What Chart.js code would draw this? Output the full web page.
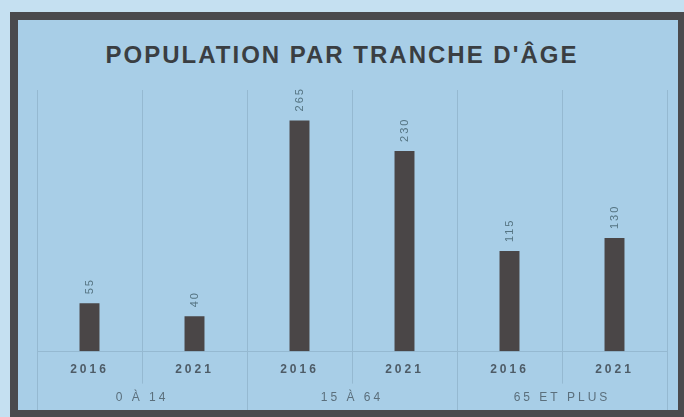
<!DOCTYPE html>
<html>
<head>
<meta charset="utf-8">
<script src="https://cdn.jsdelivr.net/npm/chart.js@4"></script>
<style>
body{margin:0;background:#c5e0f1;width:684px;height:417px;overflow:hidden;position:relative;font-family:"Liberation Sans",Arial,sans-serif;}
#frame{position:absolute;left:10px;top:12px;width:660px;height:390px;border:8px solid #4a4a4d;background:#a8cee7;}
#title{position:absolute;left:0;top:43px;width:684px;text-align:center;font-weight:bold;font-size:24px;line-height:1;letter-spacing:2px;color:#3a3e42;}
#wrap{position:absolute;left:0;top:0;width:684px;height:417px;}
</style>
</head>
<body>
<div id="frame"></div>
<div id="title">POPULATION PAR TRANCHE D'ÂGE</div>
<div id="wrap"><canvas id="c"></canvas></div>
<script>
const years=["2016","2021","2016","2021","2016","2021"];
const groups=["0 À 14","15 À 64","65 ET PLUS"];
const values=[55,40,265,230,115,130];
const yMax=300;

const gridColor="#95b9d1";

/* letter spacing for the axis text */
const spacing={id:"spacing",beforeDraw(c){c.ctx.letterSpacing="3px";}};

/* vertical separators, full height at group edges */
const separators={id:"separators",afterDraw(c){
const x=c.scales.x,ctx=c.ctx,a=c.chartArea;
ctx.save();
ctx.strokeStyle=gridColor;ctx.lineWidth=1;
for(let i=0;i<=years.length;i++){
let px=Math.round(x.getPixelForValue(i-0.5))+0.5;
let end=i%2===0?c.scales.x2.bottom+2:x.bottom-4;
ctx.beginPath();ctx.moveTo(px,a.top);ctx.lineTo(px,end);ctx.stroke();
}
ctx.restore();
}};

/* rotated value labels */
const valueLabels={id:"valueLabels",afterDatasetsDraw(c){
const ctx=c.ctx;
ctx.save();
ctx.font='11px "Liberation Sans"';
ctx.fillStyle="#557482";
ctx.letterSpacing="2px";
ctx.textAlign="left";ctx.textBaseline="middle";
c.getDatasetMeta(0).data.forEach((bar,i)=>{
ctx.save();
ctx.translate(bar.x,bar.y-9);
ctx.rotate(-Math.PI/2);
ctx.fillText(String(values[i]),0,0);
ctx.restore();
});
ctx.restore();
}};

new Chart(document.getElementById("c"),{
type:"bar",
data:{labels:years,datasets:[{data:values,backgroundColor:"#4a4647",categoryPercentage:1,barPercentage:0.19}]},
options:{
responsive:true,maintainAspectRatio:false,animation:false,
layout:{padding:{left:37,right:17,top:90,bottom:9}},
plugins:{legend:{display:false},tooltip:{enabled:false}},
scales:{
y:{display:false,min:0,max:yMax},
x:{
grid:{display:false,drawTicks:false},
border:{display:true,color:gridColor},
ticks:{padding:11,color:"#4e5c67",font:{family:"Liberation Sans",size:12,weight:"bold"}}
},
x2:{
type:"category",position:"bottom",labels:groups,offset:true,
grid:{display:false,drawTicks:false},
border:{display:false},
ticks:{padding:3,color:"#5b6f7c",font:{family:"Liberation Sans",size:12}}
}
}
},
plugins:[spacing,separators,valueLabels]
});
</script>
</body>
</html>
